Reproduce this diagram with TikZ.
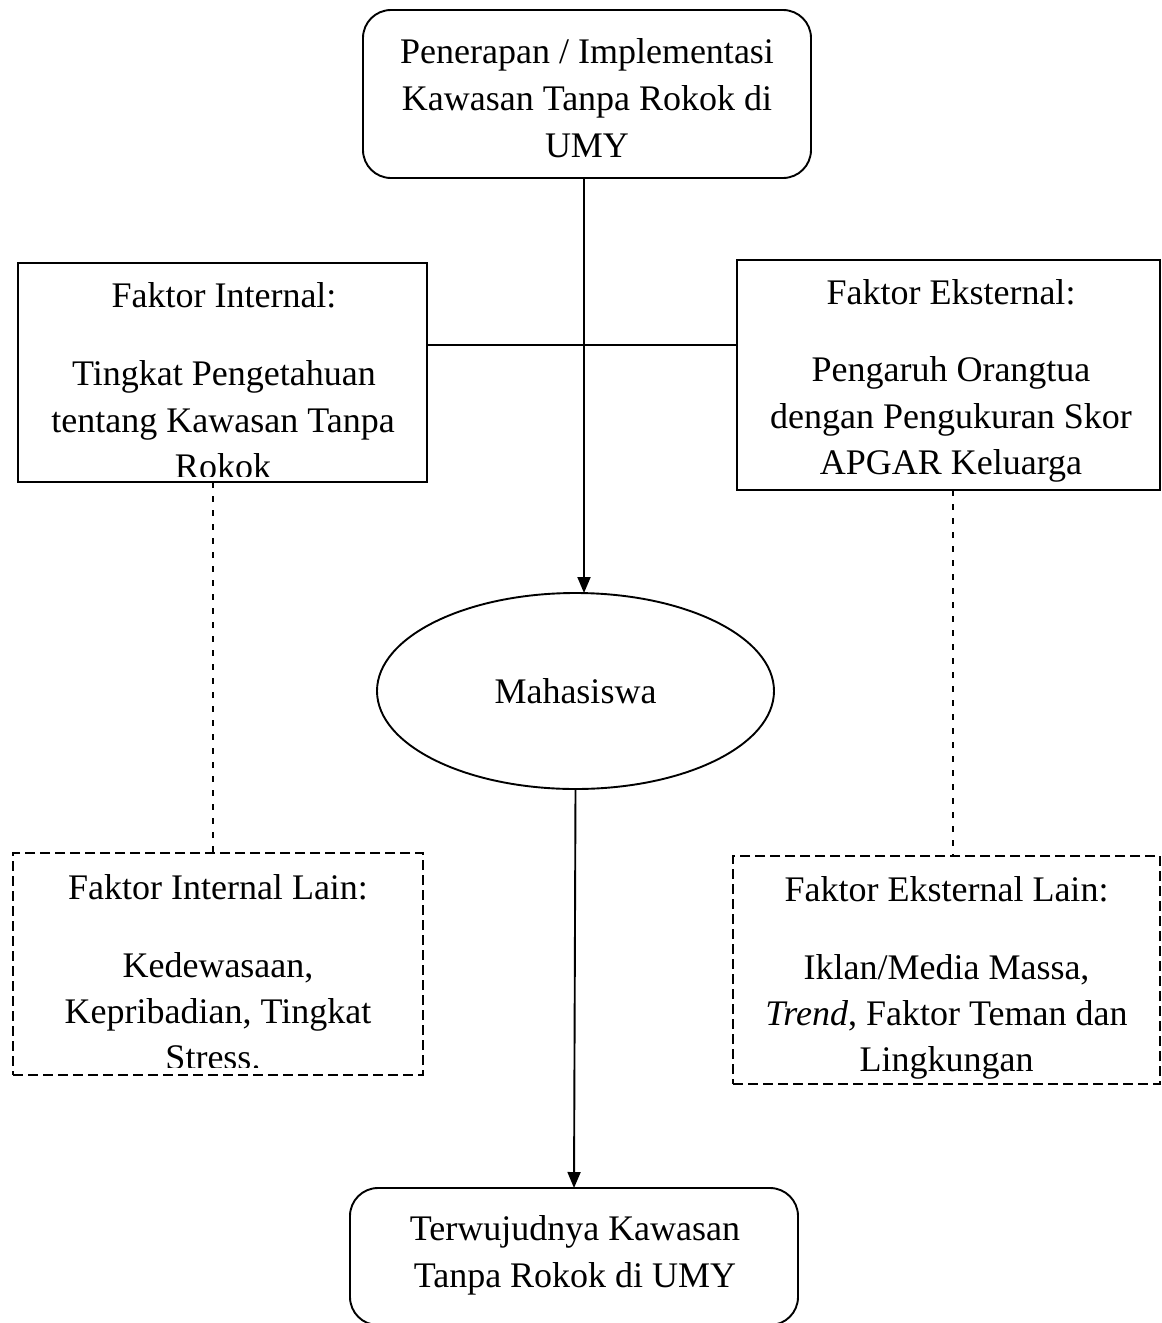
\documentclass[tikz,border=0pt]{standalone}
\usepackage{fontspec}
\setmainfont{Liberation Serif}
\usetikzlibrary{arrows.meta,shapes.geometric}
\begin{document}
\begin{tikzpicture}[x=1pt,y=-1pt,
  box/.style={draw,line width=1.9pt,rectangle,inner sep=0pt,outer sep=0pt},
  roundbox/.style={box,rounded corners=28pt},
  dashbox/.style={box,line width=2pt,dash pattern=on 10pt off 5pt},
  txt/.style={font=\fontsize{36}{44}\selectfont,inner sep=0pt,anchor=base},
  link/.style={line width=1.9pt},
  dotlink/.style={line width=2pt,dash pattern=on 6pt off 8pt},
  arr/.style={link,-{Triangle[length=16pt,width=13pt]}}]
\useasboundingbox (0,0) rectangle (1162,1323);

% boxes
\node[roundbox,minimum width=448pt,minimum height=168pt] (top) at (587,94) {};
\node[box,minimum width=409pt,minimum height=219pt] (left) at (222.5,372.5) {};
\node[box,minimum width=423pt,minimum height=230pt] (right) at (948.5,375) {};
\node[draw,ellipse,line width=1.9pt,inner sep=0pt,outer sep=0pt,
      minimum width=397pt,minimum height=196pt] (ell) at (575.5,691) {};
\node[dashbox,minimum width=410pt,minimum height=222pt] (ldash) at (218,964) {};
\node[dashbox,minimum width=427pt,minimum height=228pt] (rdash) at (946.5,970) {};
\node[roundbox,minimum width=448pt,minimum height=137pt] (bot) at (574,1256.5) {};

% texts
\node[txt] (top1) at (587,63) {Penerapan / Implementasi};
\node[txt] (top2) at (587,110) {Kawasan Tanpa Rokok di};
\node[txt] (top3) at (587,157) {UMY};

\node[txt] (l0) at (224,307) {Faktor Internal:};
\node[txt] (l1) at (224,385) {Tingkat Pengetahuan};
\node[txt] (l2) at (223,432) {tentang Kawasan Tanpa};
\begin{scope}
  \clip (18,263) rectangle (427,476);
  \node[txt] (l3) at (223,478) {Rokok};
\end{scope}

\node[txt] (r0) at (951,304) {Faktor Eksternal:};
\node[txt] (r1) at (951,381) {Pengaruh Orangtua};
\node[txt] (r2) at (951,428) {dengan Pengukuran Skor};
\node[txt] (r3) at (951,474) {APGAR Keluarga};

\node[txt] (mh) at (575.5,703) {Mahasiswa};

\node[txt] (ld0) at (218,899) {Faktor Internal Lain:};
\node[txt] (ld1) at (218,977) {Kedewasaan,};
\node[txt] (ld2) at (218,1023) {Kepribadian, Tingkat};
\begin{scope}
  \clip (13,853) rectangle (423,1067);
  \node[txt] (ld3) at (213,1069) {Stress.};
\end{scope}

\node[txt] (rd0) at (946.5,901) {Faktor Eksternal Lain:};
\node[txt] (rd1) at (946.5,979) {Iklan/Media Massa,};
\node[txt] (rd2) at (946.5,1025) {\textit{Trend}, Faktor Teman dan};
\node[txt] (rd3) at (946.5,1071) {Lingkungan};

\node[txt] (b1) at (575,1240) {Terwujudnya Kawasan};
\node[txt] (b2) at (575,1287) {Tanpa Rokok di UMY};

% connectors
\coordinate (a1) at (584,178);
\draw[arr] (a1) -- (a1 |- ell.north);
\coordinate (hl) at (0,345);
\draw[link] (left.east |- hl) -- (right.west |- hl);
\draw[arr] (ell.south) -- (bot.north);
\coordinate (dl) at (213,0);
\coordinate (dr) at (953,0);
\draw[dotlink] (dl |- left.south) -- (dl |- ldash.north);
\draw[dotlink] (dr |- right.south) -- (dr |- rdash.north);
\end{tikzpicture}
\end{document}
